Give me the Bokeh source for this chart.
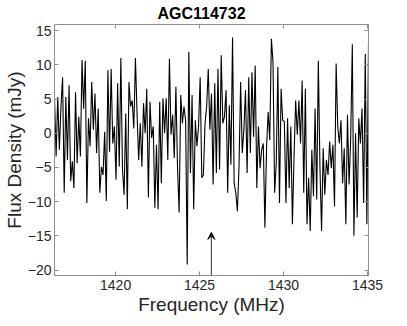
from bokeh.plotting import figure
from bokeh.models import Range1d, LinearAxis, FixedTicker, Arrow, VeeHead
from bokeh.embed import file_html
from bokeh.resources import INLINE
import numpy as np

title_text = "AGC114732"
x_label = "Frequency (MHz)"
y_label = "Flux Density (mJy)"

# channel grid (MHz)
freq_start = 1416.36
freq_stop = 1435.06

# flux density per channel (mJy)
flux = [
    5.3, -3.4, 5.3, -2.4, 3.9, 8.2, -8.7, 5.3, -3.9, 7.0,
    -7.0, -4.1, -8.0, 6.0, -4.4, 2.4, -3.4, 10.7, 3.6, 10.6,
    -10.2, 2.2, -1.9, 7.5, 0.5, 5.8, -2.9, 3.6, -8.7, -4.9,
    -6.1, 0.2, -9.9, 9.2, -2.7, 9.4, -1.5, 1.0, -6.8, 7.3,
    -4.9, 11.0, -5.3, -9.0, 2.9, -11.1, 7.5, 3.9, 4.8, 0.7,
    11.0, 2.9, -3.9, 1.45, -4.9, 4.4, 0.0, 6.5, -9.4, 4.6,
    -0.7, 1.0, -10.9, -1.7, -11.1, 4.6, -7.3, 5.1, 0.0, 5.1,
    -3.9, 10.9, -0.2, 2.7, -3.6, 6.8, -4.9, -11.6, 5.6, 1.45,
    3.9, 1.9, -19.2, 11.9, -5.8, 5.6, -11.1, 1.9, -1.9, 1.0,
    8.2, -6.5, -6.1, 1.45, 3.9, 9.4, 0.5, 5.8, -7.5, 7.3,
    -5.8, 9.4, -5.3, 11.4, 1.45, 2.4, 6.3, -8.7, 4.1, -4.6,
    14.0, -7.3, -8.7, -11.4, -4.9, 7.5, -2.9, 0.5, 6.3, -5.8,
    8.2, -2.9, 8.9, -0.5, 9.9, -8.0, 1.0, -5.1, -2.4, -1.5,
    -13.8, -2.2, 3.1, -1.0, 13.8, 10.4, -8.7, -4.4, 9.7, -10.2,
    6.5, 1.9, 1.7, -10.2, 2.2, -8.0, 1.0, -13.3, -3.4, 4.8,
    -0.2, 4.8, -1.5, 7.7, -8.7, 6.5, -13.3, -6.5, -14.3, -2.4,
    -9.2, 3.6, -9.7, 10.6, -4.9, -14.3, -2.2, -9.0, -3.9, -6.1,
    -1.2, -5.1, -1.7, -10.7, 10.2, 1.0, -1.5, 1.9, -7.3, -2.2,
    -13.3, 2.7, -7.5, -0.7, 13.0, -15.0, 0.0, -12.3, 2.2, -1.5,
    3.6, -10.2, 11.6, -13.3, 13.3,
]
freq = np.linspace(freq_start, freq_stop, len(flux))

x_ticks = [1420, 1425, 1430, 1435]
y_ticks = [-20, -15, -10, -5, 0, 5, 10, 15]
y_min, y_max = -20.8, 15.9

arrow_freq = 1425.7
arrow_tip = -14.5

FONT = "Liberation Sans"
AX = "#8f8f8f"
TXT = "#262626"

p = figure(frame_width=314, frame_height=251,
           x_range=Range1d(freq_start, freq_stop), y_range=Range1d(y_min, y_max),
           output_backend="svg", toolbar_location=None,
           min_border_left=44, min_border_right=27, min_border_top=16, min_border_bottom=38)

p.title.text = title_text
p.title.align = "left"
p.title.offset = 103
p.title.text_font = FONT
p.title.text_font_size = "16px"
p.title.text_font_style = "bold"
p.title.text_color = "black"
p.title.standoff = 5

p.xgrid.grid_line_color = None
p.ygrid.grid_line_color = None
p.outline_line_color = None
p.background_fill_color = "white"
p.border_fill_color = "white"


def style(ax, ticks):
    ax.ticker = FixedTicker(ticks=ticks)
    ax.axis_line_color = AX
    ax.axis_line_width = 1
    ax.major_tick_line_color = AX
    ax.major_tick_in = 4
    ax.major_tick_out = 0
    ax.minor_tick_line_color = None
    ax.major_label_text_font = FONT
    ax.major_label_text_font_size = "14px"
    ax.major_label_text_color = TXT
    ax.axis_label_text_font = FONT
    ax.axis_label_text_font_size = "19px"
    ax.axis_label_text_font_style = "normal"
    ax.axis_label_text_color = TXT


xa = p.xaxis[0]
style(xa, x_ticks)
xa.axis_label = x_label
xa.major_label_standoff = 4
xa.axis_label_standoff = 1

ya = p.yaxis[0]
style(ya, y_ticks)
ya.axis_label = y_label
ya.major_label_standoff = 3
ya.axis_label_standoff = 0

top = LinearAxis()
style(top, x_ticks)
top.major_label_text_font_size = "1px"
top.major_label_text_color = None
top.major_label_standoff = 0
p.add_layout(top, "above")

right = LinearAxis()
style(right, y_ticks)
right.major_label_text_font_size = "1px"
right.major_label_text_color = None
right.major_label_standoff = 0
p.add_layout(right, "right")

p.line(freq, flux, line_color="black", line_width=1.1)

p.add_layout(Arrow(end=VeeHead(size=7, fill_color="black", line_color="black", line_width=1),
                   x_start=arrow_freq, y_start=y_min, x_end=arrow_freq, y_end=arrow_tip,
                   line_color="#333333", line_width=1))

open("out.html", "w").write(file_html(p, INLINE))
